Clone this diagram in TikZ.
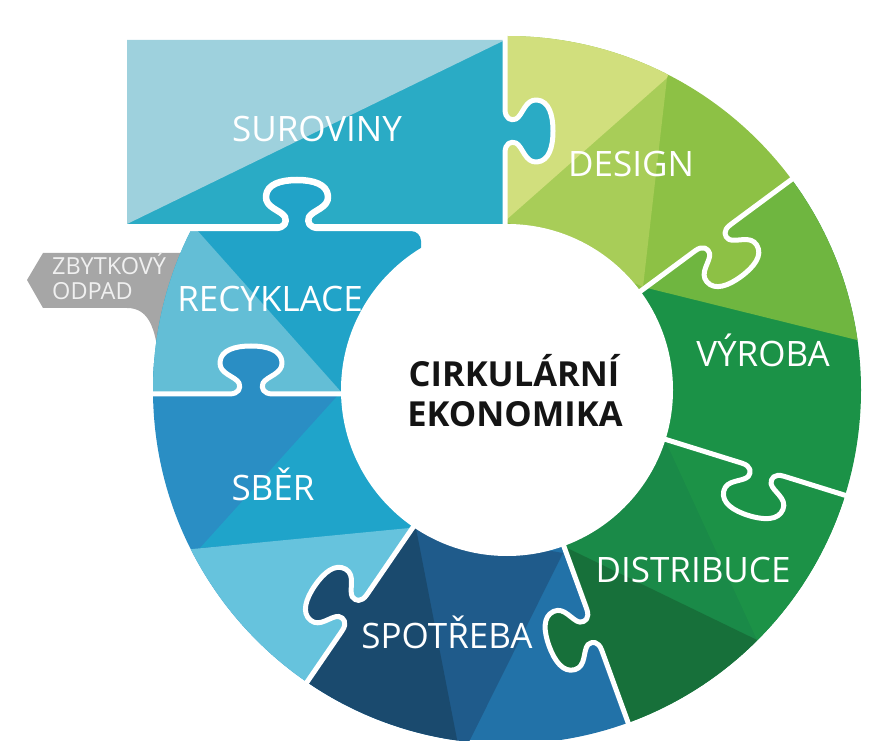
\documentclass[tikz,border=0pt]{standalone}
\usepackage{fontspec}
\setmainfont{Open Sans}
\usetikzlibrary{calc}
\definecolor{surL}{HTML}{9ED1DD}
\definecolor{surD}{HTML}{2AABC5}
\definecolor{desL}{HTML}{D1DF7D}
\definecolor{desM}{HTML}{A8CD58}
\definecolor{desD}{HTML}{8DC145}
\definecolor{vyrL}{HTML}{6FB640}
\definecolor{vyrD}{HTML}{1B9247}
\definecolor{disM}{HTML}{1A8A48}
\definecolor{disR}{HTML}{1C9247}
\definecolor{disD}{HTML}{17703A}
\definecolor{spoN}{HTML}{1A4A6E}
\definecolor{spoM}{HTML}{1F5B8B}
\definecolor{spoL}{HTML}{2272A8}
\definecolor{sbeD}{HTML}{2A8EC4}
\definecolor{sbeM}{HTML}{1FA4CA}
\definecolor{sbeL}{HTML}{66C3DD}
\definecolor{recL}{HTML}{63BED6}
\definecolor{recD}{HTML}{21A3C8}
\definecolor{odpad}{HTML}{A6A6A6}
\newcommand\tabcurve{(-22,0) .. controls (-12,0) and (-10,6) .. (-12,11) .. controls (-16,18) and (-32,20) .. (-31,32) .. controls (-30,44) and (-16,48) .. (0,48) .. controls (16,48) and (30,44) .. (31,32) .. controls (32,20) and (16,18) .. (12,11) .. controls (10,6) and (12,0) .. (22,0)}
\newcommand\tabline{-- \tabcurve}
\newcommand\tabfill[3]{\fill[#1,shift={#2},rotate=#3] \tabcurve -- (22,-6) -- (-22,-6) -- cycle;}
\tikzset{
  cut/.style={draw=white, line width=5pt, line join=round},
  lbl/.style={text=white, inner sep=0pt, font=\fontsize{35}{40}\selectfont},
  lblsmall/.style={text=white!94!black, inner sep=0pt, font=\fontsize{23.5}{25}\selectfont},
  lblmain/.style={text=black!92, inner sep=0pt, font=\fontsize{34.5}{40}\selectfont\bfseries}
}
\begin{document}
\begin{tikzpicture}[x=1pt,y=1pt]
\useasboundingbox (0,0) rectangle (884,740);
\coordinate (C) at (507,350);
% waste arrow
\fill[odpad] (43,487) -- (27,460) -- (43,432) -- (127,432) .. controls (150,432) and (158,410) .. (160,360) -- (200,360) -- (200,487) -- cycle;
% raw materials block
\fill[surD] (127,516) rectangle (505,700);
\fill[surL] (127,516) -- (127,700) -- (505,700) -- cycle;
% ring
\begin{scope}
  \clip (C) circle[radius=354];
  % DESIGN
  \begin{scope}
    \clip (C) -- ++(36.5:430) arc[start angle=36.5,end angle=90,radius=430] -- cycle;
    \fill[desD] (0,0) rectangle (884,740);
    \fill[desM] (503,520) -- (667,662) -- (643,453) -- cycle;
    \fill[desL] (505,519) -- (667,662) -- (720,800) -- (480,800) -- cycle;
  \end{scope}
  % VYROBA
  \begin{scope}
    \clip (C) -- ++(-17.3:430) arc[start angle=-17.3,end angle=36.5,radius=430] -- cycle;
    \fill[vyrD] (0,0) rectangle (884,740);
    \fill[vyrL] (643,453) -- (857,400) -- (950,420) -- (950,800) -- (600,800) -- cycle;
  \end{scope}
  % DISTRIBUCE
  \begin{scope}
    \clip (C) -- ++(-70:430) arc[start angle=-70,end angle=-17.3,radius=430] -- cycle;
    \fill[disM] (0,0) rectangle (884,740);
    \fill[disR] (665,300) -- (757,100) -- (900,100) -- (900,300) -- cycle;
    \fill[disD] (561,195) -- (757,100) -- (780,-10) -- (500,-10) -- (500,195) -- cycle;
  \end{scope}
  % SPOTREBA
  \begin{scope}
    \clip (C) -- ++(-124.4:430) arc[start angle=-124.4,end angle=-70,radius=430] -- cycle;
    \fill[spoL] (0,0) rectangle (884,740);
    \fill[spoM] (413,213) -- (563,187) -- (460,-20) -- cycle;
    \fill[spoN] (413,227) -- (461,-20) -- (250,-20) -- (250,227) -- cycle;
  \end{scope}
  % SBER
  \begin{scope}
    \clip (C) -- ++(175:430) arc[start angle=175,end angle=235.6,radius=430] -- cycle;
    \fill[sbeD] (0,0) rectangle (884,740);
    \fill[sbeM] (350,358) -- (200,192) -- (415,211) -- cycle;
    \fill[sbeL] (100,182) -- (420,213) -- (420,0) -- (100,0) -- cycle;
  \end{scope}
  % RECYKLACE
  \begin{scope}
    \clip (100,346) -- (100,509) [rounded corners=10] -- (421,509) -- (421,420) [sharp corners] -- (421,346) -- cycle;
    \fill[recD] (0,0) rectangle (884,740);
    \fill[recL] (188,520) -- (351,337) -- (100,337) -- (100,520) -- cycle;
  \end{scope}
  % tabs
  \tabfill{surD}{(505,609)}{-90}
  \tabfill{recD}{(297,512)}{0}
  \tabfill{sbeD}{(251,346)}{0}
  \tabfill{spoN}{($(C)+(-124.4:270)$)}{55.6}
  \tabfill{disD}{($(C)+(-70:255)$)}{110}
  \tabfill{vyrD}{($(C)+(-17.3:268)$)}{162.7}
  \tabfill{desD}{($(C)+(36.5:256)$)}{216.5}
\end{scope}
% white joints
\draw[cut] (505,725) {[shift={(505,609)},rotate=-90] \tabline} -- (505,500);
\draw[cut, line width=6.5pt] (100,512) {[shift={(297,512)}] \tabline} -- (440,512);
\draw[cut] (130,346) {[shift={(251,346)}] \tabline} -- (350,346);
\draw[cut] ($(C)+(-124.4:375)$) {[shift={($(C)+(-124.4:270)$)},rotate=55.6] \tabline} -- ($(C)+(-124.4:150)$);
\draw[cut] ($(C)+(-70:375)$) {[shift={($(C)+(-70:255)$)},rotate=110] \tabline} -- ($(C)+(-70:150)$);
\draw[cut] ($(C)+(-17.3:375)$) {[shift={($(C)+(-17.3:268)$)},rotate=162.7] \tabline} -- ($(C)+(-17.3:150)$);
\draw[cut] ($(C)+(36.5:375)$) {[shift={($(C)+(36.5:256)$)},rotate=216.5] \tabline} -- ($(C)+(36.5:150)$);
% centre
\fill[white] (C) circle[radius=166];
% texts
\node[lbl, anchor=base] (tsur) at (317,598) {SUROVINY};
\node[lbl, anchor=base] (tdes) at (631,563) {DESIGN};
\node[lbl, anchor=base] (tvyr) at (763,373) {VÝROBA};
\node[lbl, anchor=base] (tdis) at (693,158) {DISTRIBUCE};
\node[lbl, anchor=base] (tspo) at (447,92) {SPOTŘEBA};
\node[lbl, anchor=base] (tsbe) at (273,240) {SBĚR};
\node[lbl, anchor=base] (trec) at (270,428) {RECYKLACE};
\node[lblsmall, anchor=base west] (tzb1) at (52,465) {ZBYTKOVÝ};
\node[lblsmall, anchor=base west] (tzb2) at (52,440) {ODPAD};
\node[lblmain, anchor=base] (tc1) at (514,353) {CIRKULÁRNÍ};
\node[lblmain, anchor=base] (tc2) at (515,313) {EKONOMIKA};
\end{tikzpicture}
\end{document}
